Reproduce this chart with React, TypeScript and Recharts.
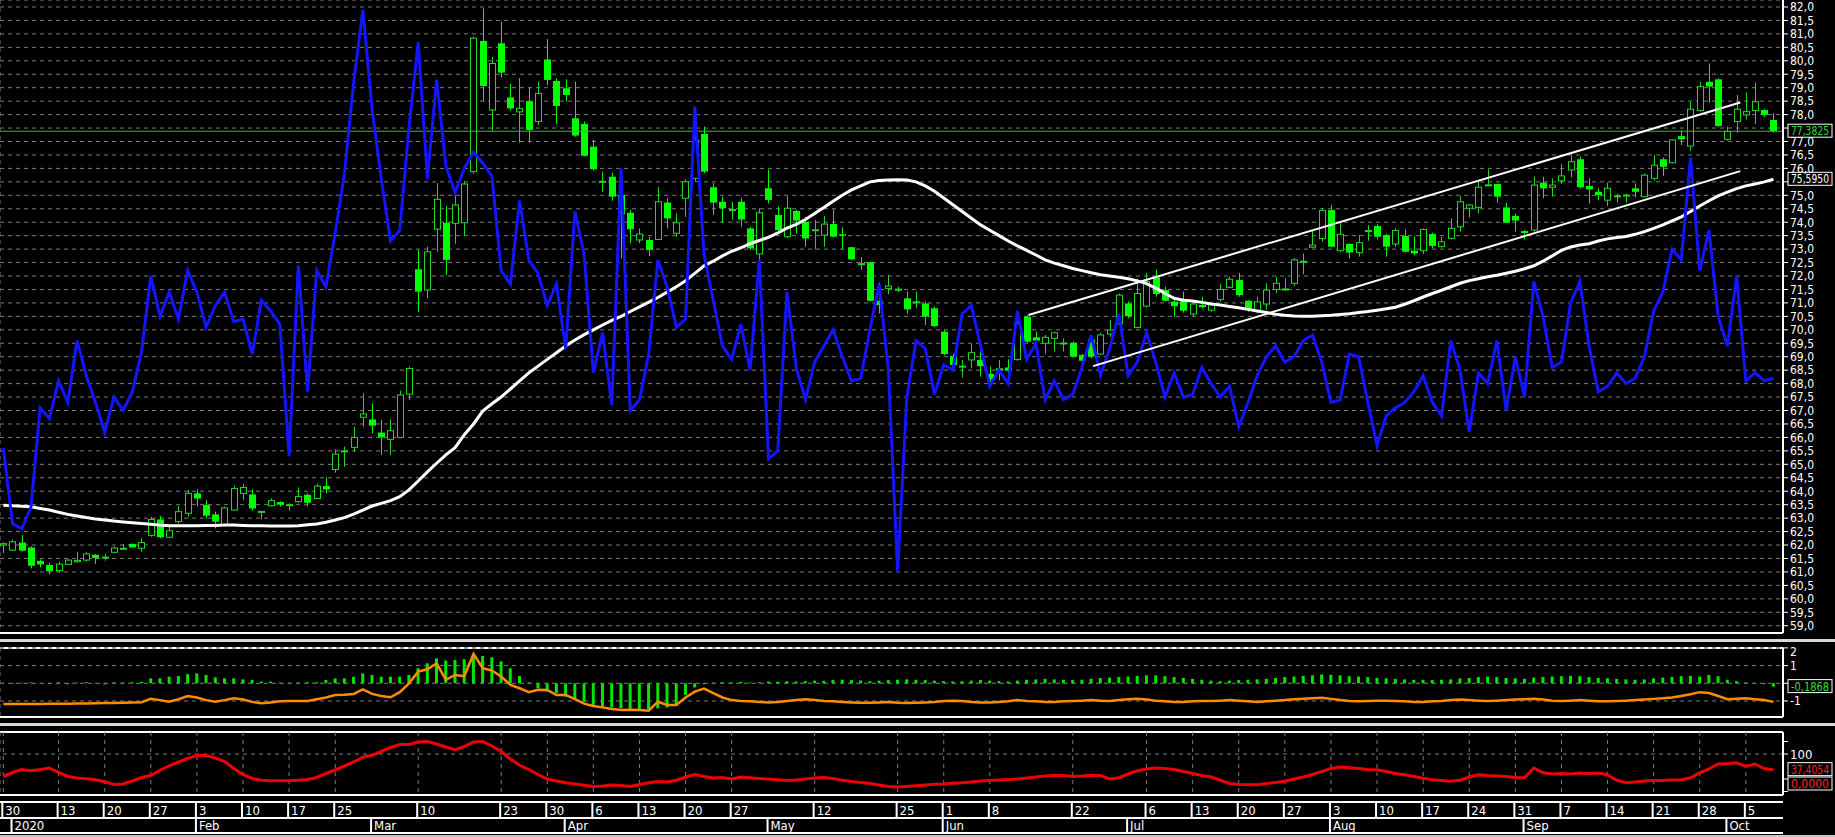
import React from "react";
import {
  ComposedChart,
  Bar,
  Line,
  XAxis,
  YAxis,
  CartesianGrid,
  ReferenceLine,
} from "recharts";

const FONT = '"Liberation Sans Narrow", "DejaVu Sans Condensed", "Arial Narrow", sans-serif';
const WIDTH = 1835;
const X_DOMAIN: [number, number] = [-0.358, 193.03];
const GRID = "#7c7c7c";
const UP = "#22d822";
const DOWN = "#00ff00";

// trading-day ticks on the date scale (index of the bar) and their labels
const dayTicks = [0, 6, 11, 16, 21, 26, 31, 36, 45, 54, 59, 64, 69, 74, 79, 88, 97, 102, 107, 116, 124, 129, 134, 139, 144, 149, 154, 159, 164, 169, 174, 179, 184, 189];
const dayLabels = ["30", "13", "20", "27", "3", "10", "17", "25", "10", "23", "30", "6", "13", "20", "27", "12", "25", "1", "8", "22", "6", "13", "20", "27", "3", "10", "17", "24", "31", "7", "14", "21", "28", "5"];
const monthTicks = [1, 21, 40, 61, 83, 102, 122, 144, 165, 187];
const monthLabels = ["2020", "Feb", "Mar", "Apr", "May", "Jun", "Jul", "Aug", "Sep", "Oct"];

const opens = [
  62.0, 61.81, 62.09, 61.91, 61.41, 61.26, 61.05, 61.28, 61.38, 61.44,
  61.64, 61.54, 61.73, 61.86, 62.04, 61.88, 62.36, 62.95, 62.29, 62.87,
  63.18, 63.92, 63.49, 63.14, 62.74, 63.3, 63.92, 63.88, 63.24, 63.46,
  63.6, 63.47, 63.61, 63.87, 63.73, 64.19, 64.81, 65.49, 65.63, 66.75,
  66.67, 66.18, 65.93, 66.0, 67.61, 72.25, 71.48, 73.74, 73.98, 73.96,
  73.98, 75.88, 80.74, 78.17, 80.65, 78.64, 78.1, 78.5, 77.74, 80.05,
  79.25, 78.98, 77.86, 77.65, 76.81, 75.5, 75.69, 75.01, 74.35, 73.34,
  73.34, 73.36, 74.73, 73.59, 74.89, 75.63, 77.28, 75.3, 74.76, 74.45,
  74.76, 73.77, 72.82, 75.26, 74.27, 73.46, 74.42, 74.01, 73.7, 73.52,
  73.93, 73.55, 73.07, 72.45, 72.51, 71.08, 71.54, 71.5, 71.17, 71.03,
  70.98, 70.8, 69.93, 69.03, 68.63, 68.88, 68.88, 68.36, 68.53, 68.6,
  68.9, 70.49, 69.72, 69.5, 69.68, 69.5, 69.52, 69.06, 69.64, 69.1,
  69.84, 70.22, 70.98, 70.09, 70.88, 71.95, 71.48, 71.05, 71.08, 70.59,
  70.92, 70.73, 71.13, 71.58, 71.85, 71.08, 70.71, 70.96, 71.5, 71.5,
  71.73, 72.53, 73.07, 73.39, 74.45, 72.94, 73.19, 72.87, 73.67, 73.86,
  73.52, 73.19, 73.49, 72.94, 72.94, 73.56, 73.09, 73.4, 73.83, 74.52,
  74.55, 75.38, 75.42, 74.55, 74.23, 73.67, 73.71, 75.47, 75.3, 75.54,
  75.94, 76.34, 75.35, 75.13, 74.82, 74.97, 75.0, 75.26, 74.95, 75.63,
  76.34, 76.21, 77.2, 76.83, 78.15, 79.22, 79.31, 77.08, 77.74, 77.99,
  78.15, 78.17, 77.8,
];
const highs = [
  62.1, 62.2, 62.37, 61.95, 61.47, 61.34, 61.38, 61.47, 61.75, 61.75,
  61.66, 61.67, 61.94, 62.04, 62.06, 62.25, 63.05, 63.08, 62.74, 63.45,
  64.05, 64.07, 63.67, 63.24, 63.43, 64.2, 64.27, 64.07, 63.26, 63.73,
  63.62, 63.55, 64.14, 63.92, 64.29, 64.52, 65.56, 65.66, 66.4, 67.64,
  67.27, 66.65, 66.67, 67.74, 68.63, 72.97, 73.09, 75.45, 74.6, 75.0,
  75.51, 80.9, 81.95, 80.15, 81.45, 79.14, 79.35, 79.01, 79.22, 80.8,
  79.35, 79.31, 79.22, 77.74, 77.06, 75.88, 75.84, 75.6, 74.45, 73.77,
  73.46, 75.32, 74.89, 74.33, 75.6, 77.58, 77.55, 75.45, 74.95, 74.76,
  74.89, 73.83, 74.52, 75.96, 74.58, 74.97, 74.45, 74.2, 74.08, 74.23,
  74.48, 73.81, 73.09, 72.7, 72.53, 71.75, 72.04, 71.6, 71.42, 71.42,
  71.05, 70.86, 69.99, 69.1, 68.88, 69.47, 69.25, 68.63, 68.88, 68.9,
  70.49, 70.55, 69.93, 69.81, 69.93, 69.68, 69.56, 69.1, 69.68, 69.89,
  70.36, 71.35, 71.05, 71.91, 72.12, 72.25, 71.6, 71.17, 71.42, 71.05,
  71.23, 71.05, 71.7, 71.97, 72.12, 71.1, 71.23, 71.73, 71.97, 71.91,
  72.66, 72.84, 73.71, 74.52, 74.64, 74.02, 73.21, 73.52, 73.89, 73.93,
  73.56, 73.77, 73.73, 73.46, 73.77, 73.61, 73.46, 74.14, 74.97, 74.68,
  75.57, 75.96, 75.44, 74.73, 74.33, 73.71, 75.69, 75.69, 75.63, 76.16,
  76.5, 76.44, 75.63, 75.26, 75.47, 75.05, 75.05, 75.44, 75.81, 76.5,
  76.41, 77.08, 77.43, 78.48, 79.22, 79.9, 79.35, 77.55, 78.73, 78.82,
  79.19, 78.2, 78.05,
];
const lows = [
  61.7, 61.78, 61.75, 61.13, 61.17, 60.92, 60.97, 61.26, 61.35, 61.38,
  61.3, 61.42, 61.7, 61.82, 61.9, 61.75, 62.31, 62.25, 62.25, 62.8,
  63.05, 63.43, 62.99, 62.62, 62.68, 63.28, 63.67, 63.28, 62.95, 63.43,
  63.43, 63.28, 63.57, 63.45, 63.71, 63.92, 64.69, 64.91, 65.47, 66.4,
  66.15, 65.35, 65.35, 65.97, 67.39, 70.67, 71.17, 72.9, 72.04, 73.2,
  73.5, 75.8, 78.48, 77.4, 79.38, 78.15, 76.96, 76.96, 77.61, 79.1,
  77.65, 78.48, 77.18, 76.44, 75.92, 75.13, 74.8, 72.66, 73.22, 73.22,
  72.74, 73.34, 73.77, 73.46, 74.2, 75.5, 75.82, 74.27, 73.98, 74.1,
  73.83, 72.97, 72.6, 74.7, 73.65, 73.4, 73.58, 73.09, 72.99, 73.09,
  73.44, 72.99, 72.6, 72.22, 71.05, 70.61, 71.33, 71.4, 70.61, 70.8,
  70.18, 70.1, 69.06, 68.63, 68.23, 68.57, 68.26, 68.07, 68.13, 68.13,
  68.85, 69.52, 69.19, 69.12, 69.19, 69.19, 68.98, 68.57, 68.94, 69.06,
  69.74, 70.18, 70.43, 70.05, 70.83, 71.23, 71.05, 70.49, 70.64, 70.49,
  70.8, 70.67, 71.05, 71.54, 71.23, 70.67, 70.61, 70.74, 71.36, 71.45,
  71.63, 72.07, 73.03, 73.27, 73.07, 72.9, 72.66, 72.72, 73.31, 73.36,
  72.72, 73.09, 72.87, 72.78, 72.82, 73.03, 73.07, 73.36, 73.65, 74.18,
  74.33, 75.35, 74.73, 73.98, 73.65, 73.36, 73.65, 74.89, 74.95, 75.42,
  75.67, 75.26, 74.7, 74.82, 74.6, 74.73, 74.73, 74.92, 74.92, 75.54,
  75.72, 76.19, 76.87, 76.66, 78.11, 78.44, 77.55, 77.03, 77.33, 77.82,
  77.65, 77.92, 77.33,
];
const closes = [
  62.05, 62.12, 61.79, 61.23, 61.28, 61.03, 61.29, 61.44, 61.43, 61.67,
  61.52, 61.55, 61.89, 61.88, 61.91, 62.09, 62.95, 62.29, 62.53, 63.24,
  63.92, 63.73, 63.09, 62.87, 63.38, 64.1, 64.14, 63.36, 63.25, 63.65,
  63.5, 63.5, 63.8, 63.57, 64.19, 64.07, 65.38, 65.5, 66.0, 66.87,
  66.44, 66.0, 66.25, 67.58, 68.56, 71.42, 72.9, 74.85, 72.6, 74.64,
  75.42, 80.84, 79.06, 79.9, 79.56, 78.23, 78.23, 77.43, 78.79, 79.29,
  78.32, 78.73, 77.22, 76.47, 75.97, 75.52, 74.95, 74.29, 73.74, 73.56,
  72.97, 74.76, 74.14, 73.98, 75.5, 77.06, 75.88, 74.73, 74.52, 74.47,
  74.1, 73.03, 74.35, 74.83, 73.71, 74.52, 74.06, 73.4, 73.72, 73.93,
  73.46, 73.5, 72.62, 72.46, 71.08, 70.92, 71.63, 71.51, 70.76, 71.04,
  70.49, 70.14, 69.1, 68.69, 68.65, 69.15, 68.65, 68.16, 68.55, 68.48,
  70.22, 69.56, 69.6, 69.72, 69.89, 69.51, 69.0, 68.85, 69.0, 69.81,
  69.99, 71.29, 70.51, 71.35, 71.79, 71.33, 71.08, 70.88, 70.71, 70.96,
  70.84, 70.96, 71.5, 71.88, 71.29, 70.74, 71.04, 71.48, 71.73, 71.52,
  72.6, 72.55, 73.15, 74.43, 73.09, 73.55, 72.87, 73.24, 73.69, 73.46,
  73.09, 73.69, 72.9, 72.84, 73.73, 73.12, 73.27, 73.77, 74.76, 74.64,
  75.3, 75.39, 74.95, 73.98, 74.06, 73.6, 75.38, 75.26, 75.38, 75.72,
  76.25, 75.3, 75.22, 75.01, 75.26, 74.98, 75.01, 75.13, 75.75, 76.12,
  76.06, 77.06, 77.08, 78.2, 79.04, 79.04, 77.58, 77.37, 78.2, 78.11,
  78.48, 77.99, 77.3825,
];

// white moving average
const movingAverage = [
  63.48, 63.46, 63.44, 63.42, 63.36, 63.3, 63.22, 63.14, 63.08, 63.02,
  62.97, 62.93, 62.89, 62.86, 62.83, 62.8, 62.77, 62.74, 62.72, 62.72,
  62.72, 62.72, 62.73, 62.73, 62.74, 62.74, 62.73, 62.72, 62.72, 62.71,
  62.71, 62.71, 62.72, 62.75, 62.78, 62.85, 62.93, 63.02, 63.15, 63.3,
  63.45, 63.55, 63.65, 63.8, 64.05, 64.38, 64.72, 65.04, 65.35, 65.62,
  66.1, 66.5, 66.98, 67.25, 67.5, 67.8, 68.1, 68.4, 68.65, 68.9,
  69.15, 69.4, 69.62, 69.82, 70.0, 70.18, 70.35, 70.5, 70.68, 70.85,
  71.03, 71.2, 71.4, 71.6, 71.82, 72.1, 72.38, 72.55, 72.75, 72.92,
  73.05, 73.2, 73.32, 73.44, 73.6, 73.78, 73.92, 74.1, 74.32, 74.55,
  74.78, 75.0, 75.2, 75.35, 75.5, 75.55, 75.57, 75.58, 75.57, 75.5,
  75.35, 75.15, 74.9, 74.65, 74.4, 74.15, 73.9, 73.7, 73.5, 73.3,
  73.12, 72.95, 72.78, 72.6, 72.48, 72.38, 72.28, 72.2, 72.12, 72.05,
  72.0, 71.95, 71.9, 71.82, 71.72, 71.55, 71.35, 71.17, 71.1, 71.07,
  71.02, 70.96, 70.92, 70.87, 70.82, 70.76, 70.7, 70.64, 70.58, 70.54,
  70.51, 70.5, 70.5, 70.52, 70.54, 70.57, 70.6, 70.64, 70.68, 70.73,
  70.78, 70.84, 70.95, 71.08, 71.22, 71.35, 71.47, 71.6, 71.73, 71.83,
  71.9, 71.97, 72.03, 72.1, 72.18, 72.27, 72.38, 72.55, 72.75, 72.95,
  73.08, 73.15, 73.2, 73.3, 73.38, 73.43, 73.47, 73.55, 73.65, 73.77,
  73.9, 74.05, 74.2, 74.4, 74.6, 74.8, 74.98, 75.12, 75.25, 75.35,
  75.42, 75.5, 75.595,
];

// blue oscillator, read in price units
const oscillator = [
  65.6, 62.8, 62.6, 63.4, 67.1, 66.7, 68.1, 67.3, 69.6, 68.3,
  67.3, 66.2, 67.5, 67.0, 67.7, 69.2, 72.0, 70.5, 71.4, 70.4,
  72.2, 71.4, 70.1, 70.9, 71.4, 70.3, 70.4, 69.1, 71.1, 70.7,
  70.2, 65.3, 72.4, 67.7, 72.2, 71.6, 73.6, 75.8, 79.2, 81.9,
  78.2, 75.6, 73.3, 73.7, 77.5, 80.7, 75.6, 79.3, 76.1, 75.1,
  76.0, 76.6, 76.2, 75.7, 72.2, 71.7, 74.8, 72.6, 72.1, 70.9,
  71.7, 69.3, 74.4, 72.8, 68.4, 69.9, 67.2, 76.0, 67.0, 67.4,
  69.1, 72.6, 71.6, 70.1, 70.4, 78.3, 72.8, 71.1, 69.4, 68.9,
  70.2, 68.5, 72.6, 65.2, 65.5, 71.4, 68.6, 67.4, 68.8, 69.4,
  70.0, 69.0, 68.1, 68.2, 70.0, 71.7, 68.5, 61.0, 67.5, 69.6,
  69.3, 67.6, 68.7, 68.5, 70.6, 70.9, 69.4, 67.9, 68.5, 68.0,
  70.7, 68.9, 69.5, 67.4, 68.1, 67.4, 67.6, 68.6, 69.8, 68.3,
  69.3, 70.6, 68.3, 68.8, 69.9, 68.8, 67.5, 68.4, 67.5, 67.6,
  68.6, 68.0, 67.5, 67.9, 66.4, 67.3, 68.3, 69.0, 69.4, 68.8,
  69.0, 69.6, 69.8, 68.8, 67.3, 67.4, 69.1, 69.0, 67.3, 65.7,
  66.8, 67.1, 67.3, 67.7, 68.3, 67.3, 66.8, 69.6, 68.5, 66.2,
  68.4, 68.0, 69.6, 67.0, 69.0, 67.5, 71.8, 70.5, 68.6, 68.8,
  71.0, 71.8, 69.4, 67.7, 67.9, 68.4, 68.0, 68.2, 69.0, 70.7,
  71.4, 73.0, 72.6, 76.4, 72.2, 73.7, 70.5, 69.4, 72.0, 68.1,
  68.4, 68.1, 68.2,
];

// middle panel: green histogram and orange signal
const histogram = [
  0.03, -0.03, 0.04, 0.05, 0.02, -0.04, 0.05, -0.05, 0.04, 0.06,
  0.03, -0.06, 0.05, 0.04, 0.06, 0.08, 0.28, 0.28, 0.37, 0.41,
  0.52, 0.56, 0.47, 0.34, 0.28, 0.28, 0.22, 0.19, 0.09, 0.09,
  0.04, 0.04, 0.04, 0.06, 0.06, 0.19, 0.28, 0.28, 0.37, 0.56,
  0.47, 0.37, 0.37, 0.37, 0.47, 0.85, 1.13, 1.41, 1.28, 1.32,
  1.36, 1.6, 1.54, 1.47, 1.24, 0.85, 0.41, 0.05, -0.28, -0.47,
  -0.56, -0.75, -0.94, -1.04, -1.22, -1.32, -1.36, -1.41, -1.51, -1.47,
  -1.47, -1.41, -1.36, -1.28, -0.66, -0.23, -0.05, 0.04, 0.06, 0.05,
  0.08, 0.05, 0.06, 0.1, 0.08, 0.12, 0.1, 0.12, 0.15, 0.14,
  0.18, 0.2, 0.18, 0.16, 0.12, 0.15, 0.18, 0.2, 0.22, 0.2,
  0.18, 0.15, 0.12, 0.1, 0.12, 0.15, 0.18, 0.15, 0.12, 0.1,
  0.15, 0.2, 0.22, 0.25, 0.22, 0.2, 0.18, 0.2, 0.25, 0.3,
  0.32, 0.35, 0.38, 0.42, 0.45, 0.45, 0.4, 0.35, 0.3, 0.25,
  0.2, 0.15, 0.12, 0.15, 0.18, 0.2, 0.22, 0.25, 0.3, 0.35,
  0.38, 0.42, 0.45, 0.5, 0.48, 0.45, 0.4, 0.38, 0.35, 0.3,
  0.28, 0.25, 0.22, 0.2, 0.2, 0.18, 0.2, 0.22, 0.28, 0.3,
  0.35, 0.38, 0.35, 0.3, 0.28, 0.25, 0.32, 0.35, 0.38, 0.4,
  0.42, 0.4, 0.35, 0.3, 0.28, 0.25, 0.22, 0.2, 0.22, 0.28,
  0.32, 0.35, 0.4, 0.42, 0.38, 0.47, 0.4, 0.2, 0.12, 0.05,
  0.03, -0.05, -0.1868,
];
const signalLine = [
  -1.17, -1.17, -1.17, -1.17, -1.17, -1.16, -1.15, -1.15, -1.14, -1.14,
  -1.13, -1.12, -1.12, -1.1, -1.09, -1.07, -0.87, -0.95, -1.04, -0.9,
  -0.72, -0.8, -0.95, -1.04, -0.95, -0.85, -0.92, -1.05, -1.13, -1.08,
  -1.02, -1.0, -1.0, -1.0, -0.9, -0.8, -0.66, -0.65, -0.6, -0.34,
  -0.6, -0.72, -0.79, -0.5, 0.0, 0.66, 0.79, 1.13, 0.19, 0.47,
  0.4, 1.66, 0.85, 0.72, 0.38, -0.09, -0.28, -0.5, -0.36, -0.38,
  -0.66, -0.66, -0.9, -1.15, -1.28, -1.36, -1.45, -1.51, -1.5, -1.51,
  -1.55, -1.04, -1.22, -1.22, -0.8, -0.47, -0.3, -0.55, -0.8, -0.95,
  -1.0, -1.02, -1.05, -1.08, -1.05, -1.0, -0.95, -0.9, -0.95, -1.0,
  -1.02, -1.05, -1.08, -1.1, -1.1, -1.08, -1.05, -1.1, -1.12, -1.1,
  -1.08, -1.05, -1.0, -0.98, -1.0, -1.05, -1.08, -1.08, -1.05, -1.02,
  -0.95, -1.0, -1.02, -1.05, -1.05, -1.02, -1.0, -0.98, -0.95, -0.98,
  -1.0, -0.95, -0.9, -0.88, -0.92, -0.98, -1.02, -1.05, -1.05, -1.02,
  -1.0, -1.0, -0.98, -0.95, -0.98, -1.02, -1.05, -1.02, -0.98, -0.95,
  -0.9, -0.88, -0.85, -0.82, -0.88, -0.95, -1.0, -1.02, -1.0, -0.98,
  -0.98, -1.0, -1.02, -1.05, -1.05, -1.02, -1.0, -0.95, -0.92, -0.95,
  -0.98, -1.0, -0.98, -0.95, -0.92, -0.9, -0.88, -0.92, -0.98, -1.0,
  -0.98, -0.95, -0.98, -1.02, -1.02, -1.0, -0.98, -0.95, -0.92, -0.88,
  -0.85, -0.8, -0.72, -0.62, -0.5, -0.55, -0.72, -0.9, -0.88, -0.85,
  -0.9, -0.95, -1.05,
];

// lower panel red line
const strength = [
  10, 26, 38, 33, 38, 44, 26, 10, 4, 1,
  -3, -11, -22, -20, -8, 6, 14, 35, 53, 68,
  82, 94, 94, 84, 70, 42, 18, 2, -5, -7,
  -7, -7, -5, -2, 6, 22, 36, 52, 68, 87,
  95, 110, 126, 138, 138, 148, 150, 140, 128, 117,
  130, 148, 150, 132, 110, 80, 55, 38, 18, 0,
  -8, -15, -20, -25, -30, -28, -24, -26, -30, -22,
  -15, -10, -12, -5, 8, 18, 10, 4, 6, 0,
  8, 5, 2, 0, -3, -6, -4, 0, 4, 6,
  2, -5, -10, -14, -18, -24, -30, -32, -30, -27,
  -24, -21, -20, -17, -15, -12, -8, -6, -4, -2,
  0, 4, 8, 12, 15, 14, 10, 12, 15, 14,
  0, 5, 20, 33, 40, 44, 42, 38, 30, 22,
  14, 8, -5, -18, -22, -23, -23, -18, -14, -9,
  0, 8, 18, 30, 42, 48, 45, 42, 38, 37,
  30, 22, 17, 10, 3, -3, -6, -9, -5, 8,
  17, 14, 12, 10, 6, 5, 44, 25, 20, 22,
  20, 24, 22, 24, 17, -5, -15, -12, -8, -6,
  -6, -4, -3, 5, 25, 40, 60, 62, 65, 50,
  60, 42, 37.4054,
];

const upperChannel = [
  { x: 111.2, y: 70.55 },
  { x: 188.4, y: 78.45 },
];
const lowerChannel = [
  { x: 118.2, y: 68.65 },
  { x: 188.4, y: 75.9 },
];

const lastClose = 77.3825;
const lastAverage = 75.595;
const lastHistogram = -0.1868;
const lastStrength = 37.4054;

const priceTicks = Array.from({ length: 47 }, (_, k) => 59 + k * 0.5);
const priceMinorTicks = Array.from({ length: 231 }, (_, k) => Math.round((59 + k * 0.1) * 10) / 10);
// scale labels that sit under the value boxes
const coveredPrices = [77.5, 75.5];

const rows = opens.map((open, i) => ({
  i,
  open,
  high: highs[i],
  low: lows[i],
  close: closes[i],
  range: [lows[i], highs[i]],
  ma: movingAverage[i],
  osc: oscillator[i],
  hist: histogram[i],
  signal: signalLine[i],
  red: strength[i],
}));

const fmt = (v: number, d: number) => v.toFixed(d).replace(".", ",");

function Candle(props: any) {
  const { x, y, width, height, payload } = props;
  if (!payload || x == null || y == null) return null;
  const { open, close, high, low } = payload;
  const top = Math.min(y, y + height);
  const span = Math.abs(height);
  const toY = (v: number) => (high === low ? top : top + ((high - v) / (high - low)) * span);
  const cx = Math.round(x + width / 2) + 0.5;
  const up = close >= open;
  const b1 = toY(Math.max(open, close));
  const b2 = toY(Math.min(open, close));
  const bodyH = Math.max(b2 - b1, 1);
  const color = up ? UP : DOWN;
  return (
    <g>
      <line x1={cx} x2={cx} y1={top} y2={top + span} stroke={color} strokeWidth={1} />
      {up ? (
        <rect x={cx - 3} y={b1} width={6} height={bodyH} fill="#000" stroke={color} strokeWidth={1} />
      ) : (
        <rect x={cx - 3.5} y={b1} width={7} height={bodyH} fill={color} />
      )}
    </g>
  );
}

function ValueTag(props: any) {
  const { viewBox, text, color, shift = 0 } = props;
  if (!viewBox) return null;
  const x = viewBox.x + viewBox.width + 5;
  const y = viewBox.y + shift;
  return (
    <g>
      <rect x={x} y={y - 7} width={44} height={13} fill="#000" stroke="#fff" strokeWidth={1} />
      <text
        x={x + 3}
        y={y + 4}
        fill={color}
        fontSize={12}
        fontFamily={FONT}
        textLength={38}
        lengthAdjust="spacingAndGlyphs"
      >
        {text}
      </text>
    </g>
  );
}

function ScaleTick(props: any) {
  const { x, y, payload, label, size = 12, top = 5 } = props;
  const text = label(payload.value);
  if (!text) return null;
  const ty = Math.min(Math.max(y, top), props.bottom - 6);
  return (
    <text x={x} y={ty + size * 0.36} fill="#fff" fontSize={size} fontFamily={FONT}>
      {text}
    </text>
  );
}

function DayTick(props: any) {
  const { x, y, payload } = props;
  const k = dayTicks.indexOf(payload.value);
  return (
    <g>
      <line x1={x - 1} x2={x - 1} y1={y + 7} y2={y + 23} stroke="#fff" strokeWidth={2} />
      <text x={x + 2} y={y + 20} fill="#fff" fontSize={13} fontFamily={FONT}>
        {dayLabels[k]}
      </text>
    </g>
  );
}

function MonthTick(props: any) {
  const { x, y, payload } = props;
  const k = monthTicks.indexOf(payload.value);
  return (
    <g>
      <line x1={x - 1} x2={x - 1} y1={y} y2={y + 15} stroke="#fff" strokeWidth={2} />
      <text x={x + 2} y={y + 12} fill="#fff" fontSize={13} fontFamily={FONT}>
        {monthLabels[k]}
      </text>
    </g>
  );
}

const hLine = (top: number, width: number, color = "#fff", h = 2) => (
  <div style={{ position: "absolute", left: 0, top, width, height: h, background: color }} />
);

export default function App() {
  return (
    <div
      style={{
        position: "fixed",
        left: 0,
        top: 0,
        width: WIDTH,
        height: 837,
        background: "#000",
        overflow: "hidden",
        fontFamily: FONT,
      }}
    >
      <style>{".recharts-surface { overflow: visible; }"}</style>

      {/* price panel */}
      <div style={{ position: "absolute", left: 0, top: 0 }}>
        <ComposedChart width={WIDTH} height={634} data={rows} margin={{ top: 0, right: 0, left: 0, bottom: 0 }}>
          <CartesianGrid stroke={GRID} strokeDasharray="4 4" />
          <XAxis
            dataKey="i"
            type="number"
            domain={X_DOMAIN}
            ticks={dayTicks}
            allowDataOverflow
            height={1}
            tick={false}
            tickLine={false}
            axisLine={{ stroke: "#fff", strokeWidth: 2 }}
          />
          <YAxis
            yAxisId="minor"
            orientation="right"
            width={0}
            domain={[58.73, 82.26]}
            allowDataOverflow
            ticks={priceMinorTicks}
            tick={false}
            tickSize={3}
            tickLine={{ stroke: "#fff" }}
            axisLine={false}
          />
          <YAxis
            orientation="right"
            width={52}
            domain={[58.73, 82.26]}
            allowDataOverflow
            ticks={priceTicks}
            interval={0}
            tickSize={5}
            tickMargin={2}
            tick={
              <ScaleTick
                bottom={633}
                size={12}
                label={(v: number) => (coveredPrices.includes(v) ? "" : fmt(v, 1))}
              />
            }
            tickLine={{ stroke: "#fff" }}
            axisLine={{ stroke: "#fff", strokeWidth: 2 }}
          />
          <ReferenceLine y={lastClose} stroke="#2fbf2f" strokeWidth={1} label={<ValueTag text={fmt(lastClose, 4)} color="#33dd33" />} />
          <Bar dataKey="range" barSize={7} shape={(p: any) => <Candle {...p} />} isAnimationActive={false} />
          <Line type="linear" dataKey="ma" stroke="#ffffff" strokeWidth={3} dot={false} activeDot={false} isAnimationActive={false} />
          <Line type="linear" dataKey="osc" stroke="#1414ff" strokeWidth={3} dot={false} activeDot={false} isAnimationActive={false} />
          <ReferenceLine segment={upperChannel} stroke="#fff" strokeWidth={2} />
          <ReferenceLine segment={lowerChannel} stroke="#fff" strokeWidth={2} />
          <ReferenceLine y={lastAverage} stroke="none" label={<ValueTag text={fmt(lastAverage, 4)} color="#ffffff" />} />
        </ComposedChart>
      </div>

      {hLine(639, WIDTH, "#d8d8d8", 3)}
      {hLine(647, 1783)}

      {/* histogram panel */}
      <div style={{ position: "absolute", left: 0, top: 648 }}>
        <ComposedChart width={WIDTH} height={70} data={rows} margin={{ top: 0, right: 0, left: 0, bottom: 0 }}>
          <CartesianGrid stroke={GRID} strokeDasharray="4 4" />
          <XAxis
            dataKey="i"
            type="number"
            domain={X_DOMAIN}
            ticks={dayTicks}
            allowDataOverflow
            height={1}
            tick={false}
            tickLine={false}
            axisLine={{ stroke: "#fff", strokeWidth: 2 }}
          />
          <YAxis
            orientation="right"
            width={52}
            domain={[-1.904, 1.994]}
            allowDataOverflow
            ticks={[2, 1, 0, -1]}
            interval={0}
            tickSize={5}
            tickMargin={2}
            tick={<ScaleTick bottom={69} size={12} top={4} label={(v: number) => (v === 0 ? "" : String(v))} />}
            tickLine={{ stroke: "#fff" }}
            axisLine={{ stroke: "#fff", strokeWidth: 2 }}
          />
          <Bar dataKey="hist" barSize={3} fill="#00e600" isAnimationActive={false} />
          <Line type="linear" dataKey="signal" stroke="#ff8c00" strokeWidth={2.5} dot={false} activeDot={false} isAnimationActive={false} />
          <ReferenceLine y={lastHistogram} stroke="none" label={<ValueTag text={fmt(lastHistogram, 4)} color="#33dd33" />} />
        </ComposedChart>
      </div>

      {hLine(723, WIDTH, "#d8d8d8", 3)}
      {hLine(731, 1783)}

      {/* strength panel with the date scale */}
      <div style={{ position: "absolute", left: 0, top: 732 }}>
        <ComposedChart width={WIDTH} height={101} data={rows} margin={{ top: 0, right: 0, left: 0, bottom: 0 }}>
          <CartesianGrid xAxisId="day" stroke={GRID} strokeDasharray="4 4" horizontal={false} />
          <XAxis
            xAxisId="day"
            dataKey="i"
            type="number"
            domain={X_DOMAIN}
            ticks={dayTicks}
            interval={0}
            allowDataOverflow
            height={23}
            tickSize={0}
            tickMargin={0}
            tick={<DayTick />}
            tickLine={false}
            axisLine={{ stroke: "#fff", strokeWidth: 2 }}
          />
          <XAxis
            xAxisId="month"
            dataKey="i"
            type="number"
            domain={X_DOMAIN}
            ticks={monthTicks}
            interval={0}
            allowDataOverflow
            height={15}
            tickSize={0}
            tickMargin={0}
            tick={<MonthTick />}
            tickLine={false}
            axisLine={{ stroke: "#fff", strokeWidth: 2 }}
          />
          <YAxis
            orientation="right"
            width={52}
            domain={[-64, 188]}
            allowDataOverflow
            ticks={[150, 100, 0, -50]}
            interval={0}
            tickSize={5}
            tickMargin={2}
            tick={<ScaleTick bottom={63} size={13} label={(v: number) => (v === 100 ? "100" : "")} />}
            tickLine={{ stroke: "#fff" }}
            axisLine={{ stroke: "#fff", strokeWidth: 2 }}
          />
          <ReferenceLine xAxisId="day" y={100} stroke={GRID} strokeDasharray="4 4" />
          <Line xAxisId="day" type="linear" dataKey="red" stroke="#ee0000" strokeWidth={3} dot={false} activeDot={false} isAnimationActive={false} />
          <ReferenceLine xAxisId="day" y={lastStrength} stroke="none" label={<ValueTag text={fmt(lastStrength, 4)} color="#ff2020" />} />
          <ReferenceLine xAxisId="day" y={0} stroke="none" label={<ValueTag text={fmt(0, 4)} color="#ff2020" shift={5} />} />
        </ComposedChart>
      </div>

      {hLine(801, 1783)}
      {hLine(832, 1783)}
      {hLine(835, WIDTH, "#c8c8c8", 2)}
    </div>
  );
}
